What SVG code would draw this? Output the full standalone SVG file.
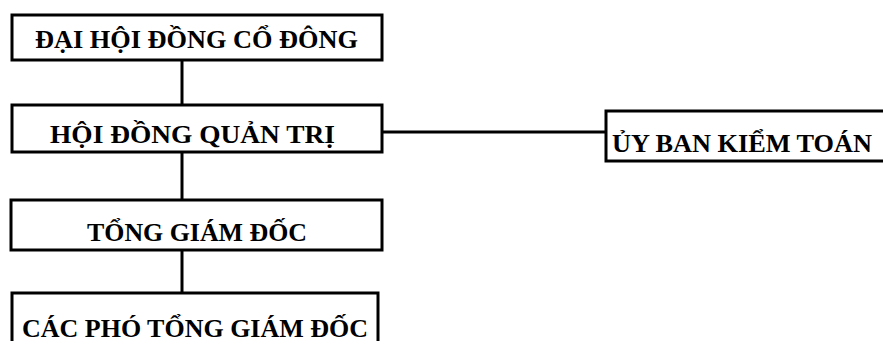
<svg xmlns="http://www.w3.org/2000/svg" width="883" height="341" viewBox="0 0 883 341">
<style>
.box{fill:#fff;stroke:#000;stroke-width:3}
.lbl{font-family:"Liberation Serif","DejaVu Serif",serif;font-weight:bold;font-size:25px;fill:#000}
.con{stroke:#000;stroke-width:3;fill:none}
</style>
<rect width="883" height="341" fill="#fff"/>
<g id="connectors">
<line class="con" x1="182" y1="60" x2="182" y2="105"/>
<line class="con" x1="182" y1="152" x2="182" y2="200"/>
<line class="con" x1="182" y1="250" x2="182" y2="293"/>
<line class="con" x1="382" y1="132" x2="606" y2="132"/>
</g>
<g id="n1"><rect class="box" x="12" y="15" width="370" height="45"/><text class="lbl" x="35" y="48" textLength="323" lengthAdjust="spacingAndGlyphs">ĐẠI HỘI ĐỒNG CỔ ĐÔNG</text></g>
<g id="n2"><rect class="box" x="12" y="105" width="370" height="47"/><text class="lbl" x="50" y="143" textLength="285" lengthAdjust="spacingAndGlyphs">HỘI ĐỒNG QUẢN TRỊ</text></g>
<g id="n3"><rect class="box" x="11" y="200" width="371" height="50"/><text class="lbl" x="87" y="241" textLength="220" lengthAdjust="spacingAndGlyphs">TỔNG GIÁM ĐỐC</text></g>
<g id="n4"><rect class="box" x="12" y="293" width="366" height="55"/><text class="lbl" x="22" y="337" textLength="346" lengthAdjust="spacingAndGlyphs">CÁC PHÓ TỔNG GIÁM ĐỐC</text></g>
<g id="n5"><rect class="box" x="606" y="111" width="280" height="50"/><text class="lbl" x="612" y="152" textLength="260" lengthAdjust="spacingAndGlyphs">ỦY BAN KIỂM TOÁN</text></g>
</svg>
